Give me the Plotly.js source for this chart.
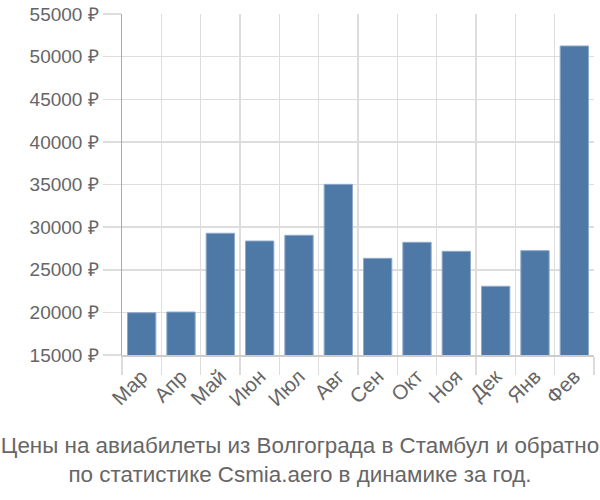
<!DOCTYPE html>
<html>
<head>
<meta charset="utf-8">
<script src="https://cdn.plot.ly/plotly-3.0.1.min.js"></script>
<style>body{margin:0}#chart{width:600px;height:500px}</style>
</head>
<body>
<div id="chart"></div>
<script>
const months = ['Мар', 'Апр', 'Май', 'Июн', 'Июл', 'Авг', 'Сен', 'Окт', 'Ноя', 'Дек', 'Янв', 'Фев'];
const prices = [19960, 20040, 29280, 28370, 29040, 35020, 26340, 28220, 27160, 23060, 27240, 51250];
const yTicks = [15000, 20000, 25000, 30000, 35000, 40000, 45000, 50000, 55000];

const trace = {
  type: 'bar',
  x: months,
  y: prices,
  marker: {color: '#4e79a7', line: {color: '#8fa9c8', width: 1}},
  hoverinfo: 'x+y'
};

const layout = {
  width: 600,
  height: 500,
  margin: {l: 122, r: 6, t: 14, b: 145},
  paper_bgcolor: '#fff',
  plot_bgcolor: '#fff',
  font: {family: 'Liberation Sans, Arial, sans-serif', size: 20, color: '#666'},
  bargap: 0.28,
  showlegend: false,
  title: {
    text: 'Цены на авиабилеты из Волгограда в Стамбул и обратно<br>по статистике Csmia.aero в динамике за год.',
    x: 0.5, xref: 'container', xanchor: 'center',
    y: 0.095, yref: 'container', yanchor: 'top',
    font: {size: 22.4, color: '#666'}
  },
  xaxis: {
    tickangle: -45,
    tickson: 'boundaries',
    ticks: 'outside',
    ticklen: 18,
    tickcolor: '#ddd',
    tickwidth: 1.5,
    showgrid: true,
    gridcolor: '#ddd',
    gridwidth: 1.5,
    showline: true,
    linecolor: '#ccc',
    linewidth: 1.5,
    tickfont: {size: 20.5}
  },
  yaxis: {
    range: [15000, 55000],
    tickvals: yTicks,
    ticktext: yTicks.map(v => v + ' ₽'),
    showgrid: true,
    gridcolor: '#ddd',
    gridwidth: 1.5,
    zeroline: false,
    showline: true,
    linecolor: '#aaa',
    linewidth: 1.5,
    ticks: 'outside',
    ticklen: 18,
    tickwidth: 1.5,
    tickcolor: '#ddd',
    ticklabelstandoff: 0,
    tickfont: {size: 19}
  }
};

Plotly.newPlot('chart', [trace], layout, {displayModeBar: false, staticPlot: true});
</script>
</body>
</html>
